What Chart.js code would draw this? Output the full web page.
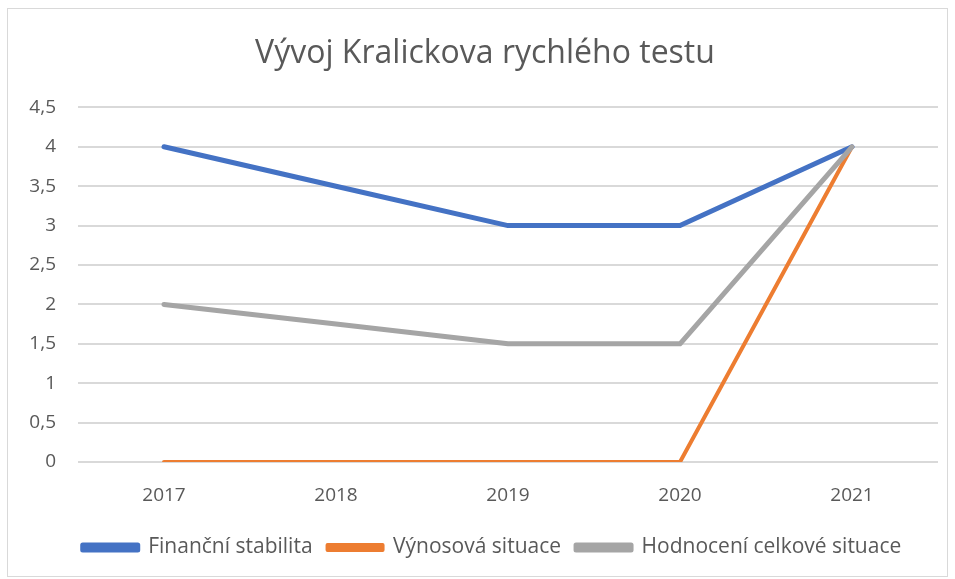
<!DOCTYPE html>
<html>
<head>
<meta charset="utf-8">
<script src="https://cdn.jsdelivr.net/npm/chart.js@4/dist/chart.umd.min.js"></script>
<style>
  body { margin: 0; background: #fff; }
  #box { position: absolute; left: 7px; top: 8px; width: 941px; height: 569px; border: 1px solid #d9d9d9; box-sizing: border-box; }
</style>
</head>
<body>
<div id="box"><canvas id="myChart"></canvas></div>
<script>
// data
let years = ['2017', '2018', '2019', '2020', '2021'];
let financniStabilita = [4, 3.5, 3, 3, 4];
let vynosovaSituace = [0, 0, 0, 0, 4];
let hodnoceniCelkove = [2, 1.75, 1.5, 1.5, 4];
let yTicks = [0, 0.5, 1, 1.5, 2, 2.5, 3, 3.5, 4, 4.5];

let textColor = '#595959';
let fontName = "'Open Sans', 'Liberation Sans', sans-serif";

function makeLine(label, data, color, width, order) {
    return {
        label: label,
        data: data,
        borderColor: color,
        backgroundColor: color,
        borderWidth: width,
        pointRadius: 0,
        tension: 0,
        borderCapStyle: 'round',
        borderJoinStyle: 'round',
        order: order
    };
}

// nudge title and legend a little to the right, like the original
let shiftBlocks = {
    id: 'shiftBlocks',
    afterLayout(chart) {
        chart.titleBlock.left += 12;
        chart.titleBlock.right += 12;
        chart.legend.left += 19;
        chart.legend.right += 19;
    }
};

let elCanvas = document.getElementById('myChart').getContext('2d');

let elChart = new Chart(elCanvas, {
    type: 'line',
    data: {
        labels: years,
        datasets: [
            makeLine('Finanční stabilita', financniStabilita, '#4472C4', 5, 2),
            makeLine('Výnosová situace', vynosovaSituace, '#ED7D31', 4, 1),
            makeLine('Hodnocení celkové situace', hodnoceniCelkove, '#A5A5A5', 5, 0)
        ]
    },
    plugins: [shiftBlocks],
    options: {
        responsive: true,
        maintainAspectRatio: false,
        animation: false,
        layout: { padding: { left: 0, right: 9, top: 0, bottom: 8 } },
        plugins: {
            title: {
                display: true,
                text: 'Vývoj Kralickova rychlého testu',
                color: textColor,
                font: { family: fontName, size: 32, weight: 'normal' },
                padding: { top: 26, bottom: 34 }
            },
            legend: {
                position: 'bottom',
                labels: {
                    color: textColor,
                    font: { family: fontName, size: 21 },
                    boxWidth: 55,
                    boxHeight: 5,
                    padding: 15,
                    sort: (a, b) => a.datasetIndex - b.datasetIndex
                }
            },
            tooltip: { enabled: false }
        },
        scales: {
            x: {
                offset: true,
                grid: { display: false },
                border: { display: false },
                afterFit: axis => { axis.height = 60; },
                ticks: {
                    color: textColor,
                    font: { family: fontName, size: 19 },
                    padding: 14,
                    maxRotation: 0
                }
            },
            y: {
                min: 0,
                max: 4.5,
                afterBuildTicks: axis => { axis.ticks = yTicks.map(v => ({ value: v })); },
                afterFit: axis => { axis.width = 70; },
                grid: { color: '#d9d9d9', lineWidth: 2, drawTicks: false },
                border: { display: false },
                ticks: {
                    color: textColor,
                    font: { family: fontName, size: 19 },
                    padding: 22,
                    callback: v => String(v).replace('.', ',')
                }
            }
        }
    }
});
</script>
</body>
</html>
